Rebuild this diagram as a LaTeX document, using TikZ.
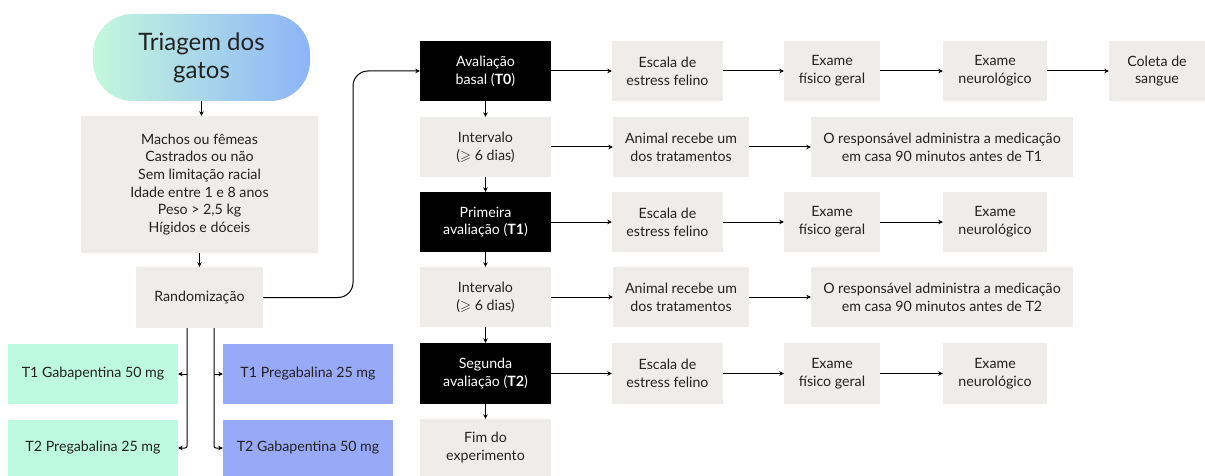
\documentclass[tikz,border=0pt]{standalone}
\usepackage{fontspec}
\usepackage{amssymb}
\setmainfont{Lato}
\usetikzlibrary{arrows.meta}
\definecolor{boxgrey}{HTML}{EFEDEA}
\definecolor{boxgreen}{HTML}{BEFAE0}
\definecolor{boxblue}{HTML}{98A9F8}
\definecolor{gradL}{HTML}{C4F8DC}
\definecolor{gradR}{HTML}{8DB4F8}
\definecolor{txt}{HTML}{222222}
\tikzset{
  base/.style={rectangle, inner sep=0pt, align=center, text=txt,
    font=\fontsize{14.2}{17.7}\selectfont},
  gbox/.style={base, fill=boxgrey},
  greenbox/.style={base, fill=boxgreen},
  bluebox/.style={base, fill=boxblue},
  blackbox/.style={base, fill=black, text=white},
  arr/.style={draw=black, line width=1pt, -{Stealth[length=4.5pt,width=4.5pt]}},
}
\begin{document}
\begin{tikzpicture}[x=1pt,y=-1pt]
\useasboundingbox (0,0) rectangle (1205,476);
% left column
\node[base, rounded corners=40pt, left color=gradL, right color=gradR,
  minimum width=217pt, minimum height=87pt,
  font=\fontsize{24}{28}\selectfont] (tri) at (201.5,57.5) {Triagem dos\\gatos};
\node[gbox, minimum width=237pt, minimum height=137pt] (crit) at (199.5,184.5)
  {Machos ou fêmeas\\Castrados ou não\\Sem limitação racial\\Idade entre 1 e 8 anos\\Peso > 2,5 kg\\Hígidos e dóceis};
\node[gbox, minimum width=127pt, minimum height=61pt] (rand) at (199.5,297.5) {Randomização};
\node[greenbox, minimum width=170pt, minimum height=60pt] (g1) at (93,374) {T1 Gabapentina 50 mg};
\node[greenbox, minimum width=170pt, minimum height=56pt] (g2) at (93,448) {T2 Pregabalina 25 mg};
\node[bluebox, minimum width=170pt, minimum height=60pt] (b1) at (308,374) {T1 Pregabalina 25 mg};
\node[bluebox, minimum width=170pt, minimum height=56pt] (b2) at (308,448) {T2 Gabapentina 50 mg};
% right column A
\node[blackbox, minimum width=131pt, minimum height=60pt] (t0) at (485.5,71) {Avaliação\\basal (\textbf{T0})};
\node[gbox, minimum width=131pt, minimum height=60pt] (i1) at (485.5,147) {Intervalo\\($\geqslant$ 6 dias)};
\node[blackbox, minimum width=131pt, minimum height=60pt] (t1) at (485.5,222) {Primeira\\avaliação (\textbf{T1})};
\node[gbox, minimum width=131pt, minimum height=60pt] (i2) at (485.5,297) {Intervalo\\($\geqslant$ 6 dias)};
\node[blackbox, minimum width=131pt, minimum height=61pt] (t2) at (485.5,373.5) {Segunda\\avaliação (\textbf{T2})};
\node[gbox, minimum width=131pt, minimum height=57pt] (fim) at (485.5,447.5) {Fim do\\experimento};
% row 1
\node[gbox, minimum width=111pt, minimum height=60pt] (e0) at (667.5,71) {Escala de\\estress felino};
\node[gbox, minimum width=96pt, minimum height=60pt] (f0) at (832,71) {Exame\\físico geral};
\node[gbox, minimum width=104pt, minimum height=60pt] (n0) at (995,71) {Exame\\neurológico};
\node[gbox, minimum width=96pt, minimum height=60pt] (c0) at (1157,71) {Coleta de\\sangue};
% row 2
\node[gbox, minimum width=136pt, minimum height=60pt] (a1) at (681,147) {Animal recebe um\\dos tratamentos};
\node[gbox, minimum width=262pt, minimum height=60pt] (r1) at (942,147) {O responsável administra a medicação\\em casa 90 minutos antes de T1};
% row 3
\node[gbox, minimum width=111pt, minimum height=60pt] (e1) at (667.5,222) {Escala de\\estress felino};
\node[gbox, minimum width=96pt, minimum height=60pt] (f1) at (832,222) {Exame\\físico geral};
\node[gbox, minimum width=104pt, minimum height=60pt] (n1) at (995,222) {Exame\\neurológico};
% row 4
\node[gbox, minimum width=136pt, minimum height=60pt] (a2) at (681,297) {Animal recebe um\\dos tratamentos};
\node[gbox, minimum width=262pt, minimum height=60pt] (r2) at (942,297) {O responsável administra a medicação\\em casa 90 minutos antes de T2};
% row 5
\node[gbox, minimum width=111pt, minimum height=61pt] (e2) at (667.5,373.5) {Escala de\\estress felino};
\node[gbox, minimum width=96pt, minimum height=61pt] (f2) at (832,373.5) {Exame\\físico geral};
\node[gbox, minimum width=104pt, minimum height=61pt] (n2) at (995,373.5) {Exame\\neurológico};
% connectors left
\draw[arr] (tri.south) -- (tri.south |- crit.north);
\draw[arr] (crit.south) -- (crit.south |- rand.north);
\draw[arr, rounded corners=2pt] ([xshift=-12.5pt]rand.south) |- (g2.east);
\draw[arr] ([xshift=-12.5pt]rand.south |- g1.east) -- (g1.east);
\draw[arr, rounded corners=2pt] ([xshift=14.5pt]rand.south) |- (b2.west);
\draw[arr] ([xshift=14.5pt]rand.south |- b1.west) -- (b1.west);
\draw[arr, rounded corners=15pt] (rand.east) -- (353,297.5) |- (t0.west);
% vertical chain
\draw[arr] (t0.south) -- (i1.north);
\draw[arr] (i1.south) -- (t1.north);
\draw[arr] (t1.south) -- (i2.north);
\draw[arr] (i2.south) -- (t2.north);
\draw[arr] (t2.south) -- (fim.north);
% horizontal
\draw[arr] (t0.east) -- (e0.west);
\draw[arr] (e0.east) -- (f0.west);
\draw[arr] (f0.east) -- (n0.west);
\draw[arr] (n0.east) -- (c0.west);
\draw[arr] (i1.east) -- (a1.west);
\draw[arr] (a1.east) -- (r1.west);
\draw[arr] (t1.east) -- (e1.west);
\draw[arr] (e1.east) -- (f1.west);
\draw[arr] (f1.east) -- (n1.west);
\draw[arr] (i2.east) -- (a2.west);
\draw[arr] (a2.east) -- (r2.west);
\draw[arr] (t2.east) -- (e2.west);
\draw[arr] (e2.east) -- (f2.west);
\draw[arr] (f2.east) -- (n2.west);
\end{tikzpicture}
\end{document}
